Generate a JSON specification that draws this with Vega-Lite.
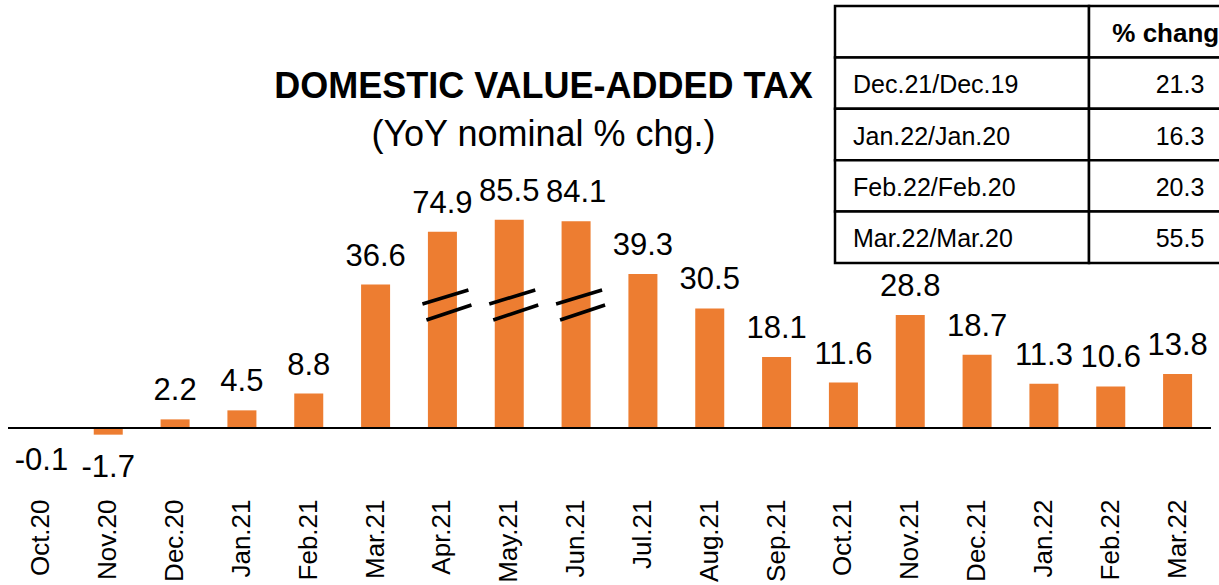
{
  "$schema": "https://vega.github.io/schema/vega-lite/v6.json",
  "width": 1203,
  "height": 492,
  "autosize": "none",
  "padding": {"left": 8, "top": 0, "right": 8, "bottom": 93},
  "background": "white",
  "config": {"font": "Liberation Sans", "view": {"stroke": null}},
  "title": {
    "text": "DOMESTIC VALUE-ADDED TAX",
    "subtitle": "(YoY nominal % chg.)",
    "orient": "top",
    "anchor": "middle",
    "frame": "group",
    "offset": -154,
    "dx": -66,
    "font": "Liberation Sans",
    "fontSize": 36,
    "fontWeight": "bold",
    "color": "black",
    "subtitleFont": "Liberation Sans",
    "subtitleFontSize": 36,
    "subtitleColor": "black",
    "subtitlePadding": 12
  },
  "datasets": {
    "months": [
      {"month": "Oct.20", "value": -0.1},
      {"month": "Nov.20", "value": -1.7},
      {"month": "Dec.20", "value": 2.2},
      {"month": "Jan.21", "value": 4.5},
      {"month": "Feb.21", "value": 8.8},
      {"month": "Mar.21", "value": 36.6},
      {"month": "Apr.21", "value": 74.9},
      {"month": "May.21", "value": 85.5},
      {"month": "Jun.21", "value": 84.1},
      {"month": "Jul.21", "value": 39.3},
      {"month": "Aug.21", "value": 30.5},
      {"month": "Sep.21", "value": 18.1},
      {"month": "Oct.21", "value": 11.6},
      {"month": "Nov.21", "value": 28.8},
      {"month": "Dec.21", "value": 18.7},
      {"month": "Jan.22", "value": 11.3},
      {"month": "Feb.22", "value": 10.6},
      {"month": "Mar.22", "value": 13.8}
    ],
    "table": [
      {"period": "", "change": null},
      {"period": "Dec.21/Dec.19", "change": 21.3},
      {"period": "Jan.22/Jan.20", "change": 16.3},
      {"period": "Feb.22/Feb.20", "change": 20.3},
      {"period": "Mar.22/Mar.20", "change": 55.5}
    ]
  },
  "layer": [
    {
      "data": {"name": "months"},
      "layer": [
        {
          "mark": {"type": "bar", "color": "#ED7D31"},
          "encoding": {
            "x": {"field": "month", "type": "nominal", "sort": null,
                  "scale": {"paddingInner": 0.566, "paddingOuter": 0.283},
                  "axis": {"title": null, "labelAngle": -90, "labelFontSize": 26, "labelColor": "black",
                           "labelFont": "Liberation Sans", "ticks": false, "domain": false,
                           "labelPadding": 7, "labelLimit": 300, "labelOverlap": false}},
            "y": {"field": "value", "type": "quantitative", "stack": null,
                  "scale": {"type": "linear", "domain": [-16.33, 0, 40, 100], "range": [492, 428, 271.2, 203.4], "zero": false, "nice": false},
                  "axis": null}
          }
        },
        {
          "transform": [{"filter": "datum.value >= 0"}],
          "mark": {"type": "text", "fontSize": 31, "baseline": "alphabetic", "dy": -19, "color": "black"},
          "encoding": {
            "x": {"field": "month", "type": "nominal", "sort": null},
            "y": {"field": "value", "type": "quantitative"},
            "text": {"field": "value", "type": "nominal"}
          }
        },
        {
          "transform": [{"filter": "datum.value < 0"}],
          "mark": {"type": "text", "fontSize": 31, "baseline": "alphabetic", "dy": 42, "color": "black"},
          "encoding": {
            "x": {"field": "month", "type": "nominal", "sort": null},
            "y": {"field": "value", "type": "quantitative"},
            "text": {"field": "value", "type": "nominal"}
          }
        },
        {
          "data": {"values": [{}]},
          "mark": {"type": "rule", "color": "black", "strokeWidth": 2},
          "encoding": {"y": {"datum": 0, "type": "quantitative"}}
        },
        {
          "transform": [{"filter": "datum.value > 50"}],
          "mark": {"type": "rule", "color": "black", "strokeWidth": 3.5, "xOffset": -20, "x2Offset": 26},
          "encoding": {
            "x": {"field": "month", "type": "nominal", "sort": null},
            "x2": {"field": "month"},
            "y": {"datum": 31.63, "type": "quantitative"},
            "y2": {"datum": 35.2}
          }
        },
        {
          "transform": [{"filter": "datum.value > 50"}],
          "mark": {"type": "rule", "color": "black", "strokeWidth": 3.5, "xOffset": -16, "x2Offset": 29},
          "encoding": {
            "x": {"field": "month", "type": "nominal", "sort": null},
            "x2": {"field": "month"},
            "y": {"datum": 27.55, "type": "quantitative"},
            "y2": {"datum": 31.38}
          }
        }
      ]
    },
    {
      "data": {"name": "table"},
      "transform": [{"fold": ["period", "change"]}],
      "layer": [
        {
          "mark": {"type": "rect", "fill": "white", "stroke": "black", "strokeWidth": 2.5},
          "encoding": {
            "x": {"field": "key", "type": "nominal",
                  "scale": {"domain": ["period", "change"], "range": [827, 1335], "paddingInner": 0, "paddingOuter": 0},
                  "axis": null},
            "y": {"field": "period", "type": "nominal",
                  "scale": {"domain": ["", "Dec.21/Dec.19", "Jan.22/Jan.20", "Feb.22/Feb.20", "Mar.22/Mar.20"], "range": [6, 263], "paddingInner": 0, "paddingOuter": 0},
                  "axis": null}
          }
        },
        {
          "transform": [{"filter": "datum.key === 'period' && datum.period !== ''"}],
          "mark": {"type": "text", "fontSize": 25, "align": "left", "baseline": "alphabetic", "dx": -109, "dy": 10, "color": "black"},
          "encoding": {
            "x": {"field": "key", "type": "nominal"},
            "y": {"field": "period", "type": "nominal"},
            "text": {"field": "period", "type": "nominal"}
          }
        },
        {
          "transform": [{"filter": "datum.key === 'change' && datum.period !== ''"}],
          "mark": {"type": "text", "fontSize": 25, "align": "center", "baseline": "alphabetic", "dx": -36, "dy": 10, "color": "black"},
          "encoding": {
            "x": {"field": "key", "type": "nominal"},
            "y": {"field": "period", "type": "nominal"},
            "text": {"field": "change", "type": "nominal"}
          }
        },
        {
          "data": {"values": [{"key": "change", "period": "", "label": "% change"}]},
          "mark": {"type": "text", "fontSize": 26, "fontWeight": "bold", "align": "center", "baseline": "alphabetic", "dx": -43, "dy": 10, "color": "black"},
          "encoding": {
            "x": {"field": "key", "type": "nominal"},
            "y": {"field": "period", "type": "nominal"},
            "text": {"field": "label", "type": "nominal"}
          }
        }
      ]
    }
  ],
  "resolve": {"scale": {"x": "independent", "y": "independent"}}
}
